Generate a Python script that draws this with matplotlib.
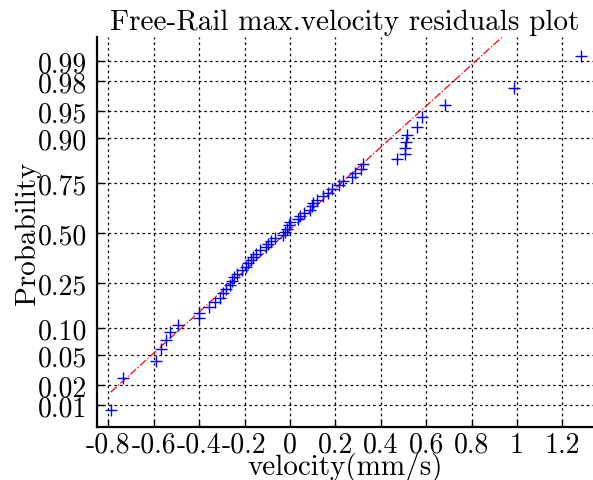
from statistics import NormalDist

import matplotlib

matplotlib.use("Agg")
import matplotlib.pyplot as plt
import numpy as np

plt.rcParams["font.family"] = "serif"
plt.rcParams["font.serif"] = ["cmr10"]
plt.rcParams["mathtext.fontset"] = "cm"
plt.rcParams["axes.formatter.use_mathtext"] = True

# residuals of the max. velocity (mm/s), sorted
residuals = [
    -0.79, -0.735, -0.59, -0.57, -0.545, -0.53, -0.495, -0.40, -0.40, -0.355,
    -0.33, -0.31, -0.295, -0.28, -0.265, -0.255, -0.245, -0.235, -0.21, -0.194,
    -0.186, -0.17, -0.162, -0.15, -0.132, -0.107, -0.096, -0.084, -0.066, -0.032,
    -0.022, -0.012, -0.005, 0.0, 0.035, 0.044, 0.06, 0.09, 0.096, 0.10,
    0.118, 0.145, 0.167, 0.184, 0.215, 0.235, 0.272, 0.286, 0.315, 0.322,
    0.47, 0.507, 0.507, 0.511, 0.514, 0.558, 0.58, 0.683, 0.987, 1.28,
]
prob_ticks = [0.01, 0.02, 0.05, 0.10, 0.25, 0.50, 0.75, 0.90, 0.95, 0.98, 0.99]
prob_labels = ["0.01", "0.02", "0.05", "0.10", "0.25", "0.50",
               "0.75", "0.90", "0.95", "0.98", "0.99"]
x_ticks = [-0.8, -0.6, -0.4, -0.2, 0, 0.2, 0.4, 0.6, 0.8, 1, 1.2]
x_labels = ["-0.8", "-0.6", "-0.4", "-0.2", "0", "0.2", "0.4", "0.6", "0.8", "1", "1.2"]

nd = NormalDist()
x = np.sort(np.array(residuals))
n = len(x)
# plotting positions on the normal quantile scale
z = np.array([nd.inv_cdf((i - 0.5) / n) for i in range(1, n + 1)])

# reference line through the 1st and 3rd quartiles
q1, q3 = np.percentile(x, [25, 75], method="hazen")
z1, z3 = nd.inv_cdf(0.25), nd.inv_cdf(0.75)
slope = (z3 - z1) / (q3 - q1)
line_x = np.array([x.min(), x.max()])
line_z = z1 + slope * (line_x - q1)

fig = plt.figure(figsize=(5.93, 4.81), dpi=100)
ax = fig.add_axes([0.1636, 0.110, 1.0 - 0.1636, 0.811])

ax.plot(line_x, line_z, color="red", linestyle="-.", linewidth=0.9)
ax.plot(x, z, "+", color="blue", markersize=9, markeredgewidth=1.0)

ax.set_xlim(-0.85, 1.335)
ax.set_ylim(-2.62, 2.65)
ax.set_xticks(x_ticks)
ax.set_xticklabels(x_labels)
ax.set_yticks([nd.inv_cdf(p) for p in prob_ticks])
ax.set_yticklabels(prob_labels)

ax.grid(True, color="black", linestyle=(0, (2, 2.5)), linewidth=0.9)
ax.tick_params(direction="in", length=5, width=1, labelsize=20, pad=7)
ax.tick_params(axis="x", pad=3)
for side in ["top", "right"]:
    ax.spines[side].set_visible(False)
for side in ["left", "bottom"]:
    ax.spines[side].set_linewidth(1.6)

ax.set_title("Free-Rail max.velocity residuals plot", fontsize=21, pad=6)
ax.set_xlabel("velocity(mm/s)", fontsize=21, labelpad=-4)
ax.set_ylabel("Probability", fontsize=21, labelpad=-2)

fig.savefig("out.png", dpi=100)
